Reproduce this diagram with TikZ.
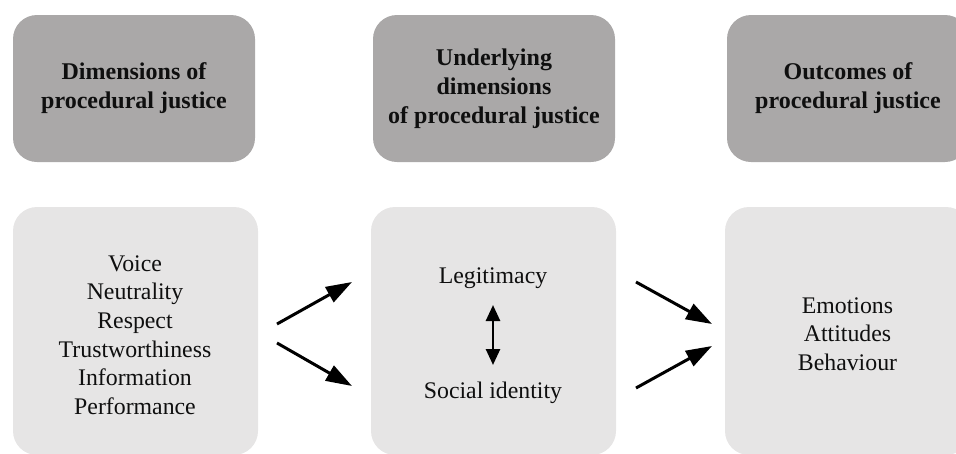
\documentclass[tikz,border=0pt]{standalone}
\usepackage{fontspec}
\setmainfont{Liberation Serif}
\usetikzlibrary{arrows.meta}
\definecolor{headgray}{RGB}{170,168,168}
\definecolor{bodygray}{RGB}{230,229,229}
\definecolor{ink}{RGB}{15,15,15}
\begin{document}
\begin{tikzpicture}[x=1pt,y=-1pt,
  headbox/.style={fill=headgray, draw=none, rounded corners=24pt, minimum width=242pt, minimum height=147pt, inner sep=0pt, align=center, text=ink, font=\fontsize{24}{29}\selectfont\bfseries},
  bodybox/.style={fill=bodygray, draw=none, rounded corners=24pt, minimum width=245pt, minimum height=248pt, inner sep=0pt},
  bodytext/.style={align=center, text=ink, inner sep=0pt, font=\fontsize{23.8}{28.7}\selectfont},
  bigarrow/.style={line width=3pt, -{Triangle[length=26pt,width=17pt]}, draw=black},
  dblarrow/.style={line width=2.6pt, {Triangle[length=16pt,width=14pt]}-{Triangle[length=16pt,width=14pt]}, draw=black}
]
\useasboundingbox (0,0) rectangle (956,453);
% header boxes
\node[headbox] (h1) at (134,88.5) {Dimensions of\\procedural justice};
\node[headbox] (h2) at (494,88.5) {Underlying\\dimensions\\of procedural justice};
\node[headbox] (h3) at (848,88.5) {Outcomes of\\procedural justice};
% body boxes
\node[bodybox] (b1) at (135.5,331) {};
\node[bodybox] (b2) at (493.5,331) {};
\node[bodybox] (b3) at (847.5,331) {};
% body texts
\node[bodytext] (t1) at (135,335) {Voice\\Neutrality\\Respect\\Trustworthiness\\Information\\Performance};
\node[bodytext, anchor=base] (leg) at (493,283) {Legitimacy};
\node[bodytext, anchor=base] (soc) at (493,398) {Social identity};
\node[bodytext] (t3) at (847.5,334) {Emotions\\Attitudes\\Behaviour};
% arrow end points
\coordinate (a1s) at (277,324);
\coordinate (a1e) at (352,282);
\coordinate (a2s) at (277,343);
\coordinate (a2e) at (352,386);
\coordinate (a3s) at (636,282);
\coordinate (a3e) at (712,324);
\coordinate (a4s) at (636,388);
\coordinate (a4e) at (712,346);
\coordinate (d1) at (493,305);
\coordinate (d2) at (493,365);
\draw[bigarrow] (a1s) -- (a1e);
\draw[bigarrow] (a2s) -- (a2e);
\draw[bigarrow] (a3s) -- (a3e);
\draw[bigarrow] (a4s) -- (a4e);
\draw[dblarrow] (d1) -- (d2);
\end{tikzpicture}
\end{document}
